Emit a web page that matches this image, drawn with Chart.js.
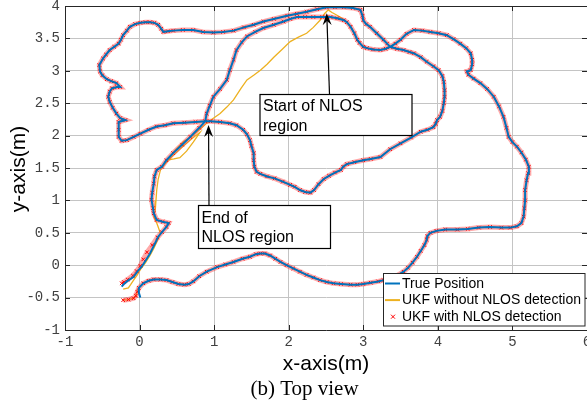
<!DOCTYPE html>
<html lang="en">
<head>
<meta charset="UTF-8">
<title>(b) Top view</title>
<script src="https://cdn.jsdelivr.net/npm/chart.js"></script>
<style>
  html, body { margin: 0; padding: 0; background: #fff; overflow: hidden; }
  #wrap { width: 610px; height: 408px; }
</style>
</head>
<body>
<div id="wrap"><canvas id="chart" width="610" height="408"></canvas></div>
<script>
// axis ticks
const xTickValues = [-1, 0, 1, 2, 3, 4, 5, 6];
const yTickValues = [-1, -0.5, 0, 0.5, 1, 1.5, 2, 2.5, 3, 3.5, 4];

// true trajectory in pieces (x, y in metres)
const trueBottom = [
  [0.01,-0.50],[-0.01,-0.42],[-0.01,-0.35],[0.05,-0.28],[0.12,-0.24],[0.19,-0.22],[0.28,-0.22],[0.36,-0.23],
  [0.44,-0.26],[0.52,-0.29],[0.60,-0.30],[0.66,-0.29],[0.72,-0.25],[0.80,-0.17],[0.90,-0.10],[1.04,-0.03],
  [1.15,0.01],[1.26,0.05],[1.38,0.10],[1.48,0.13],[1.56,0.17],[1.62,0.18],[1.68,0.18],[1.75,0.15],
  [1.82,0.10],[1.89,0.05],[1.97,0.00],[2.06,-0.05],[2.15,-0.10],[2.24,-0.15],[2.33,-0.19],[2.42,-0.23],
  [2.51,-0.26],[2.60,-0.28],[2.70,-0.29],[2.83,-0.30],[2.92,-0.30],[3.00,-0.29],[3.10,-0.27],[3.20,-0.25],
  [3.27,-0.23],[3.36,-0.20],[3.45,-0.16],[3.54,-0.10],[3.60,-0.04],[3.66,0.04],[3.72,0.13],[3.77,0.22],
  [3.82,0.31],[3.85,0.39],[3.86,0.45],[3.90,0.50]
];
const trueRight = [
  [3.98,0.53],[4.10,0.55],[4.26,0.55],[4.40,0.56],[4.55,0.58],[4.70,0.59],[4.85,0.58],[4.97,0.58],
  [5.06,0.60],[5.12,0.65],[5.15,0.75],[5.16,0.88],[5.17,1.00],[5.17,1.16],[5.19,1.31],[5.21,1.42],
  [5.22,1.52],[5.18,1.63],[5.12,1.74],[5.06,1.83],[5.00,1.90],[4.95,1.98],[4.92,2.12],[4.88,2.29],
  [4.82,2.45],[4.75,2.60],[4.66,2.72],[4.57,2.81],[4.48,2.88],[4.41,2.94],[4.39,2.99],[4.44,3.01],
  [4.46,3.10],[4.46,3.17],[4.44,3.27],[4.38,3.35],[4.30,3.42],[4.21,3.49],[4.12,3.55],[4.01,3.58],
  [3.90,3.60],[3.79,3.62],[3.68,3.63],[3.58,3.57],[3.50,3.48],[3.43,3.42],[3.36,3.37]
];
const trueInner = [
  [3.45,3.34],[3.54,3.32],[3.62,3.29],[3.68,3.27],[3.77,3.21],[3.85,3.14],[3.94,3.07],[4.01,3.01],
  [4.06,2.92],[4.08,2.83],[4.09,2.70],[4.09,2.60],[4.08,2.50],[4.06,2.38],[4.03,2.29],[3.99,2.24],
  [3.97,2.18],[3.94,2.13],[3.86,2.09],[3.77,2.06],[3.64,1.97],[3.50,1.88],[3.36,1.79],[3.23,1.67],
  [3.10,1.64],[3.00,1.62],[2.88,1.59],[2.78,1.56],[2.73,1.52],[2.70,1.47],[2.62,1.43],[2.54,1.38],
  [2.47,1.33],[2.40,1.25],[2.34,1.16],[2.29,1.12],[2.22,1.13],[2.15,1.16],[2.08,1.21],[2.02,1.24],
  [1.92,1.29],[1.81,1.34],[1.71,1.37],[1.62,1.41],[1.57,1.44],[1.54,1.52],[1.53,1.62],[1.53,1.73],
  [1.50,1.84],[1.48,1.93],[1.44,2.02],[1.39,2.09],[1.30,2.16],[1.21,2.19],[1.08,2.21],[0.95,2.22],
  [0.88,2.22]
];
const trueUpperLeft = [
  [0.75,2.21],[0.60,2.20],[0.45,2.19],[0.34,2.16],[0.23,2.14],[0.12,2.09],[0.01,2.03],[-0.08,1.98],
  [-0.17,1.93],[-0.24,1.92],[-0.28,1.98],[-0.28,2.09],[-0.28,2.21],[-0.19,2.24],[-0.26,2.27],[-0.31,2.34],
  [-0.36,2.43],[-0.40,2.52],[-0.42,2.60],[-0.40,2.68],[-0.37,2.73],[-0.30,2.75],[-0.26,2.75],[-0.31,2.81],
  [-0.38,2.84],[-0.44,2.87],[-0.50,2.93],[-0.53,2.99],[-0.54,3.09],[-0.49,3.19],[-0.45,3.25],[-0.40,3.32],
  [-0.34,3.37],[-0.28,3.42],[-0.25,3.48],[-0.22,3.55],[-0.17,3.62],[-0.13,3.68],[-0.06,3.72],[0.01,3.74],
  [0.08,3.75],[0.14,3.75],[0.20,3.74],[0.25,3.71],[0.29,3.65],[0.32,3.60],[0.38,3.61],[0.45,3.62],
  [0.58,3.63],[0.72,3.63],[0.85,3.60],[0.99,3.59],[1.12,3.60],[1.26,3.62],[1.40,3.67],[1.53,3.71],
  [1.66,3.76],[1.80,3.80],[1.98,3.85],[2.11,3.88],[2.24,3.91],[2.38,3.95],[2.51,3.98],[2.62,3.98],
  [2.74,3.98],[2.86,3.97],[2.96,3.94],[2.99,3.85],[3.00,3.78],[3.04,3.72],[3.09,3.68],[3.18,3.58],
  [3.27,3.48],[3.32,3.42],[3.36,3.37]
];
const trueNlosLeg = [
  [3.30,3.34],[3.23,3.32],[3.13,3.33],[3.05,3.35],[3.00,3.37],[2.95,3.43],[2.92,3.48],[2.88,3.58],
  [2.83,3.68],[2.78,3.75],[2.74,3.78],[2.65,3.81],[2.56,3.83],[2.45,3.83],[2.33,3.83],[2.22,3.83],
  [2.11,3.83],[2.02,3.80],[1.93,3.76],[1.80,3.71],[1.66,3.66],[1.55,3.60],[1.44,3.53],[1.37,3.44],
  [1.30,3.32],[1.26,3.17],[1.21,3.01],[1.17,2.86],[1.08,2.72],[0.99,2.60],[0.94,2.46],[0.90,2.34],
  [0.88,2.22]
];
const trueFinal = [
  [0.80,2.12],[0.68,1.98],[0.57,1.86],[0.45,1.73],[0.36,1.62],[0.30,1.52],[0.23,1.47],[0.20,1.37],
  [0.19,1.26],[0.17,1.12],[0.16,1.01],[0.18,0.88],[0.19,0.80],[0.23,0.70],[0.31,0.67],[0.39,0.65],
  [0.36,0.59],[0.30,0.51],[0.25,0.44],[0.20,0.32],[0.14,0.18],[0.08,0.07],[0.03,-0.02],[-0.03,-0.10],
  [-0.08,-0.18],[-0.17,-0.25],[-0.21,-0.29],[-0.24,-0.33]
];

// filter estimates: where they differ visibly from the truth
const ukfStart = [[-0.22,-0.54],[-0.15,-0.53],[-0.08,-0.51],[-0.05,-0.47],[-0.03,-0.41]];
const ukfNlosLeg = [
  [3.30,3.34],[3.23,3.32],[3.13,3.33],[3.05,3.35],[3.00,3.37],[2.95,3.43],[2.92,3.48],[2.88,3.58],
  [2.83,3.68],[2.74,3.79],[2.66,3.85],[2.58,3.90],[2.53,3.94],[2.48,3.88],[2.42,3.78],[2.33,3.67],
  [2.24,3.58],[2.13,3.52],[2.02,3.45],[1.91,3.33],[1.80,3.21],[1.71,3.10],[1.62,3.01],[1.53,2.93],
  [1.44,2.86],[1.36,2.73],[1.26,2.55],[1.17,2.44],[1.08,2.34],[0.98,2.26],[0.90,2.19]
];
const ukfFinal = [
  [0.80,2.09],[0.70,1.99],[0.59,1.91],[0.48,1.78],[0.37,1.62],[0.46,1.64],[0.54,1.66],[0.63,1.76],
  [0.72,1.90],[0.81,2.05],[0.70,1.95],[0.55,1.80],[0.42,1.66],[0.34,1.56],[0.28,1.47],[0.25,1.33],
  [0.23,1.16],[0.22,1.00],[0.21,0.85],[0.19,0.75],[0.23,0.65],[0.25,0.59],[0.28,0.49],[0.24,0.38],
  [0.19,0.26],[0.14,0.15],[0.08,0.04],[0.01,-0.07],[-0.03,-0.15],[-0.08,-0.23],[-0.12,-0.30],
  [-0.15,-0.35],[-0.22,-0.37]
];
const detFinal = [
  [0.80,2.12],[0.68,1.98],[0.57,1.86],[0.45,1.73],[0.36,1.62],[0.30,1.52],[0.23,1.47],[0.20,1.37],
  [0.19,1.26],[0.17,1.12],[0.16,1.01],[0.18,0.88],[0.19,0.80],[0.23,0.70],[0.31,0.67],[0.39,0.65],
  [0.36,0.59],[0.30,0.51],[0.24,0.43],[0.17,0.31],[0.10,0.20],[0.05,0.09],[0.01,-0.01],[-0.04,-0.09],
  [-0.09,-0.16],[-0.16,-0.22],[-0.21,-0.26],[-0.24,-0.28]
];

const truePath = [...trueBottom, ...trueRight, ...trueInner, ...trueUpperLeft, ...trueNlosLeg, ...trueFinal];
const ukfPath = [...ukfStart, ...trueBottom.slice(2), ...trueRight, ...trueInner, ...trueUpperLeft, ...ukfNlosLeg, ...ukfFinal];
const detPath = [...ukfStart, ...trueBottom.slice(2), ...trueRight, ...trueInner, ...trueUpperLeft, ...trueNlosLeg, ...detFinal];

const toXY = arr => arr.map(p => ({ x: p[0], y: p[1] }));

const sansFont = '"Liberation Sans", Arial, Helvetica, sans-serif';

function arrowTo(ctx, x0, y0, x1, y1) {
  const ang = Math.atan2(y1 - y0, x1 - x0);
  const len = 12, half = 4.5, back = 8;
  ctx.beginPath();
  ctx.moveTo(x0, y0);
  ctx.lineTo(x1 - Math.cos(ang) * back, y1 - Math.sin(ang) * back);
  ctx.stroke();
  const bx = x1 - Math.cos(ang) * len, by = y1 - Math.sin(ang) * len;
  const nx = -Math.sin(ang), ny = Math.cos(ang);
  ctx.beginPath();
  ctx.moveTo(x1, y1);
  ctx.lineTo(bx + nx * half, by + ny * half);
  ctx.lineTo(x1 - Math.cos(ang) * back, y1 - Math.sin(ang) * back);
  ctx.lineTo(bx - nx * half, by - ny * half);
  ctx.closePath();
  ctx.fill();
}

function textBox(ctx, x, y, w, h, lines, baselines) {
  ctx.fillStyle = '#fff';
  ctx.fillRect(x, y, w, h);
  ctx.strokeStyle = '#000';
  ctx.lineWidth = 1.2;
  ctx.strokeRect(x, y, w, h);
  ctx.fillStyle = '#000';
  ctx.font = '16px ' + sansFont;
  ctx.textAlign = 'left';
  ctx.textBaseline = 'alphabetic';
  lines.forEach((t, i) => ctx.fillText(t, x + 3, baselines[i]));
}

const decorations = {
  id: 'decorations',
  afterDraw(chart) {
    const ctx = chart.ctx;
    const a = chart.chartArea;
    const xs = chart.scales.x, ys = chart.scales.y;
    ctx.save();

    // top frame line and inward tick marks
    ctx.strokeStyle = '#262626';
    ctx.lineWidth = 1;
    ctx.beginPath();
    ctx.moveTo(a.left, a.top + 0.5);
    ctx.lineTo(a.right, a.top + 0.5);
    xTickValues.forEach(v => {
      const px = Math.round(xs.getPixelForValue(v)) + 0.5;
      ctx.moveTo(px, a.bottom); ctx.lineTo(px, a.bottom - 5);
      ctx.moveTo(px, a.top); ctx.lineTo(px, a.top + 5);
    });
    yTickValues.forEach(v => {
      const py = Math.round(ys.getPixelForValue(v)) + 0.5;
      ctx.moveTo(a.left, py); ctx.lineTo(a.left + 5, py);
      ctx.moveTo(a.right, py); ctx.lineTo(a.right - 5, py);
    });
    ctx.stroke();

    // annotations
    ctx.strokeStyle = '#000';
    ctx.fillStyle = '#000';
    ctx.lineWidth = 1.2;
    arrowTo(ctx, 329.5, 94.5, xs.getPixelForValue(2.51), ys.getPixelForValue(3.89));
    arrowTo(ctx, 209, 205.5, xs.getPixelForValue(0.925), ys.getPixelForValue(2.165));
    textBox(ctx, 260, 94.5, 152, 41, ['Start of NLOS', 'region'], [111, 130.5]);
    textBox(ctx, 198.5, 205.5, 132, 43, ['End of', 'NLOS region'], [222.5, 242]);

    // legend
    const lx = 383.5, ly = 273.5, lw = 201.5, lh = 52.5;
    ctx.fillStyle = '#fff';
    ctx.fillRect(lx, ly, lw, lh);
    ctx.strokeStyle = '#262626';
    ctx.lineWidth = 1;
    ctx.strokeRect(lx, ly, lw, lh);
    ctx.font = '14px ' + sansFont;
    ctx.textBaseline = 'middle';
    chart.data.datasets.forEach((ds, i) => {
      const cy = 283.5 + i * 16.6;
      if (ds.legendMarker) {
        ctx.strokeStyle = ds.pointBorderColor;
        ctx.lineWidth = 1;
        ctx.beginPath();
        ctx.moveTo(391, cy - 2); ctx.lineTo(395, cy + 2);
        ctx.moveTo(395, cy - 2); ctx.lineTo(391, cy + 2);
        ctx.stroke();
      } else {
        ctx.strokeStyle = ds.borderColor;
        ctx.lineWidth = 2;
        ctx.beginPath();
        ctx.moveTo(385, cy); ctx.lineTo(400, cy);
        ctx.stroke();
      }
      ctx.fillStyle = '#000';
      ctx.fillText(ds.label, 402, cy + 0.5);
    });

    // axis titles and caption
    ctx.fillStyle = '#000';
    ctx.font = '21px ' + sansFont;
    ctx.textAlign = 'center';
    ctx.textBaseline = 'alphabetic';
    ctx.fillText('x-axis(m)', 326, 370);
    ctx.save();
    ctx.translate(25, 169);
    ctx.rotate(-Math.PI / 2);
    ctx.fillText('y-axis(m)', 0, 0);
    ctx.restore();
    ctx.font = '21px "Liberation Serif", "Times New Roman", serif';
    ctx.fillText('(b) Top view', 304.5, 395);

    ctx.restore();
  }
};

const tickFont = { family: '"Liberation Mono", "Courier New", monospace', size: 14 };

new Chart(document.getElementById('chart'), {
  type: 'scatter',
  data: {
    datasets: [
      {
        label: 'True Position',
        data: toXY(truePath),
        showLine: true,
        borderColor: '#0072BD',
        borderWidth: 2,
        pointRadius: 0,
        order: 1
      },
      {
        label: 'UKF without NLOS detection',
        data: toXY(ukfPath),
        showLine: true,
        borderColor: '#EDB120',
        borderWidth: 1.3,
        pointRadius: 0,
        order: 3
      },
      {
        label: 'UKF with NLOS detection',
        data: toXY(detPath),
        showLine: true,
        borderColor: 'rgba(255,50,50,0.42)',
        borderWidth: 5,
        pointStyle: 'crossRot',
        pointRadius: 2.5,
        pointBorderColor: '#ff0000',
        pointBorderWidth: 1,
        legendMarker: true,
        order: 2
      }
    ]
  },
  options: {
    responsive: false,
    animation: false,
    layout: { padding: { left: 0, right: 23, top: 6, bottom: 0 } },
    plugins: { legend: { display: false }, tooltip: { enabled: false } },
    scales: {
      x: {
        type: 'linear',
        min: -1,
        max: 6,
        afterBuildTicks: s => { s.ticks = xTickValues.map(v => ({ value: v })); },
        afterFit: s => { s.height = 78; s.paddingLeft = 0; s.paddingRight = 0; },
        grid: { color: '#c4c4c4', drawTicks: false },
        border: { color: '#262626', width: 1 },
        ticks: { font: tickFont, color: '#404040', padding: 4, autoSkip: false, maxRotation: 0, callback: v => String(v) }
      },
      y: {
        type: 'linear',
        min: -1,
        max: 4,
        afterBuildTicks: s => { s.ticks = yTickValues.map(v => ({ value: v })); },
        afterFit: s => { s.width = 65; s.paddingTop = 0; s.paddingBottom = 0; },
        grid: { color: '#c4c4c4', drawTicks: false },
        border: { color: '#262626', width: 1 },
        ticks: { font: tickFont, color: '#404040', padding: 5, autoSkip: false, callback: v => String(v) }
      }
    }
  },
  plugins: [decorations]
});
</script>
</body>
</html>
